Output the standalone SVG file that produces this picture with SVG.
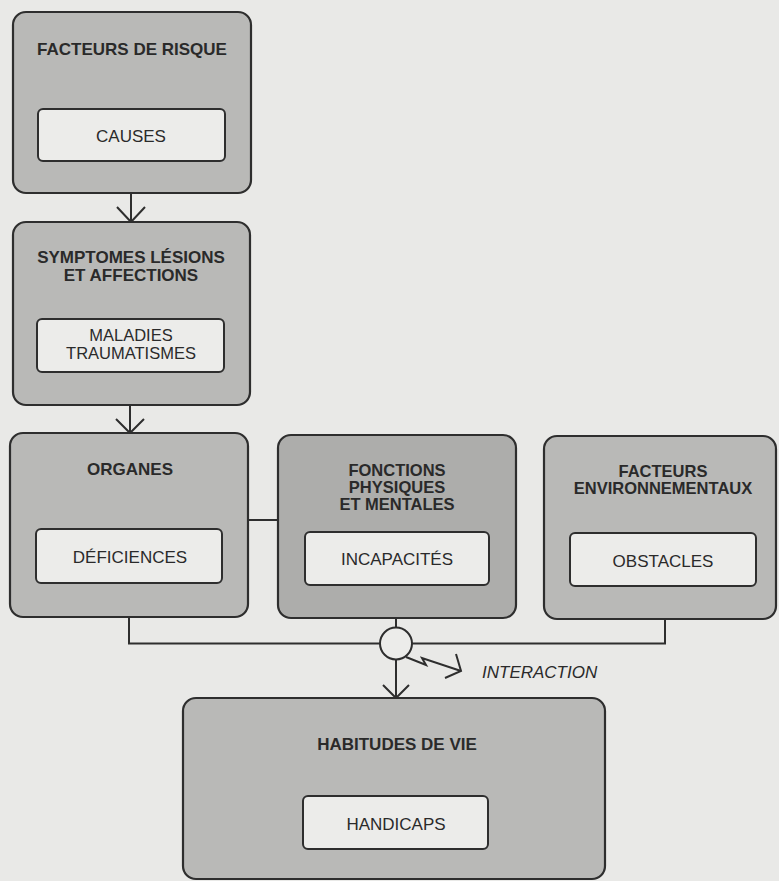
<svg xmlns="http://www.w3.org/2000/svg" width="779" height="881" viewBox="0 0 779 881">
<defs>
<style>
.outer{fill:#b9b9b7;stroke:#2e2e2e;stroke-width:2.2}
.outer.dark{fill:#adadab}
.inner{fill:#ececea;stroke:#2e2e2e;stroke-width:2}
.t{font-family:"Liberation Sans",Arial,Helvetica,sans-serif;font-size:17px;fill:#2a2a2a;text-anchor:middle}
.b{font-weight:bold}
.s{font-size:16.5px}
.c{fill:none;stroke:#2e2e2e;stroke-width:2;stroke-linejoin:miter}
</style>
</defs>
<rect width="779" height="881" fill="#e9e9e7"/>

<g id="connectors">
<line class="c" x1="131" y1="193" x2="131" y2="222"/>
<polyline class="c" points="117,207 131,222 145,207"/>
<line class="c" x1="130" y1="405" x2="130" y2="433"/>
<polyline class="c" points="116,419 130,433 144,419"/>
<line class="c" x1="248" y1="520" x2="278" y2="520"/>
<polyline class="c" points="129,617 129,643.5 380,643.5"/>
<line class="c" x1="396" y1="618" x2="396" y2="627.5"/>
<polyline class="c" points="665,619 665,643.5 412,643.5"/>
<circle class="c" cx="396" cy="643.5" r="16" style="fill:#ececea"/>
<line class="c" x1="396" y1="659.5" x2="396" y2="698"/>
<polyline class="c" points="383,685 396,698 409,685"/>
<polyline class="c" points="406,657 426,665 422,658 461,671"/>
<polyline class="c" points="456,654 461,671 445,678"/>
<text class="t" x="482" y="678" style="text-anchor:start;font-style:italic">INTERACTION</text>
</g>

<g id="facteurs-risque">
<rect class="outer" x="13" y="12" width="238" height="181" rx="13"/>
<text class="t b" x="132" y="55">FACTEURS DE RISQUE</text>
<rect class="inner" x="38" y="109" width="187" height="52" rx="5"/>
<text class="t" x="131" y="142">CAUSES</text>
</g>

<g id="symptomes">
<rect class="outer" x="13" y="222" width="237" height="183" rx="13"/>
<text class="t b" x="131" y="263">SYMPTOMES LÉSIONS</text>
<text class="t b" x="131" y="281">ET AFFECTIONS</text>
<rect class="inner" x="37" y="319" width="187" height="53" rx="5"/>
<text class="t s" x="131" y="341">MALADIES</text>
<text class="t s" x="131" y="359">TRAUMATISMES</text>
</g>

<g id="organes">
<rect class="outer" x="10" y="433" width="238" height="184" rx="13"/>
<text class="t b" x="130" y="475">ORGANES</text>
<rect class="inner" x="36" y="529" width="186" height="54" rx="5"/>
<text class="t" x="130" y="563">DÉFICIENCES</text>
</g>

<g id="fonctions">
<rect class="outer dark" x="278" y="435" width="238" height="183" rx="13"/>
<text class="t b s" x="397" y="476">FONCTIONS</text>
<text class="t b s" x="397" y="493">PHYSIQUES</text>
<text class="t b s" x="397" y="510">ET MENTALES</text>
<rect class="inner" x="305" y="532" width="184" height="53" rx="5"/>
<text class="t" x="397" y="565">INCAPACITÉS</text>
</g>

<g id="environnement">
<rect class="outer" x="544" y="436" width="232" height="183" rx="13"/>
<text class="t b s" x="663" y="477">FACTEURS</text>
<text class="t b s" x="663" y="494">ENVIRONNEMENTAUX</text>
<rect class="inner" x="570" y="533" width="186" height="53" rx="5"/>
<text class="t" x="663" y="567">OBSTACLES</text>
</g>

<g id="habitudes">
<rect class="outer" x="183" y="698" width="422" height="181" rx="13"/>
<text class="t b" x="397" y="750">HABITUDES DE VIE</text>
<rect class="inner" x="303" y="796" width="185" height="53" rx="5"/>
<text class="t" x="396" y="830">HANDICAPS</text>
</g>
</svg>
